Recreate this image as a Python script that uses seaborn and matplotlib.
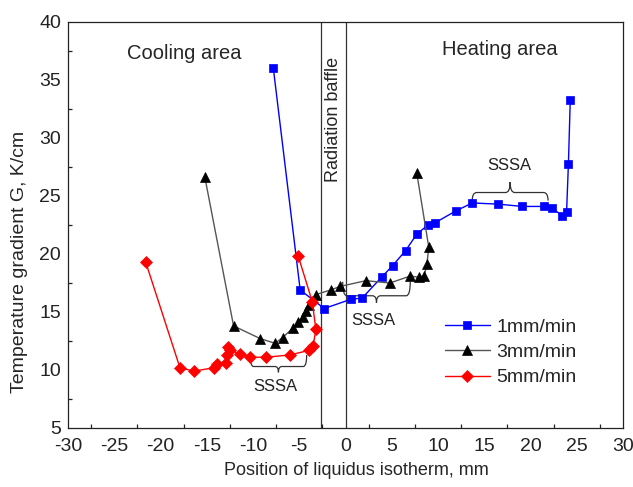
import numpy as np
import pandas as pd
import matplotlib
matplotlib.use("Agg")
import matplotlib.pyplot as plt
import seaborn as sns
from matplotlib.path import Path
from matplotlib.patches import PathPatch

# ---------------- data ----------------
x_1mm = [-7.8, -4.9, -2.3, 0.6, 1.8, 3.9, 5.1, 6.5, 7.7, 8.9, 9.7, 11.9, 13.7,
         16.5, 19.1, 21.5, 22.3, 23.4, 23.9, 24.1, 24.3]
g_1mm = [36.0, 16.9, 15.3, 16.1, 16.2, 18.0, 19.0, 20.3, 21.7, 22.5, 22.7, 23.7, 24.4,
         24.3, 24.1, 24.1, 24.0, 23.3, 23.6, 27.8, 33.3]

x_3mm = [-15.2, -12.1, -9.2, -7.6, -6.8, -5.7, -5.1, -4.6, -4.3, -3.9, -3.2, -1.6,
         -0.6, 2.2, 4.8, 7.0, 7.9, 8.5, 8.8, 9.0, 7.7]
g_3mm = [26.6, 13.8, 12.7, 12.3, 12.8, 13.6, 14.1, 14.6, 15.1, 15.6, 16.5, 16.9,
         17.2, 17.7, 17.5, 18.1, 18.0, 18.1, 19.1, 20.6, 27.0]

x_5mm = [-21.6, -17.9, -16.4, -14.2, -13.9, -12.9, -12.8, -12.7, -12.5, -11.4, -10.3,
         -8.6, -6.0, -3.9, -3.5, -3.2, -3.6, -5.1]
g_5mm = [19.3, 10.2, 9.9, 10.2, 10.5, 10.6, 11.3, 12.0, 11.7, 11.4, 11.1,
         11.1, 11.3, 11.7, 12.1, 13.5, 15.9, 19.8]

series_names = ["1mm/min", "3mm/min", "5mm/min"]
baffle_x = -2.6
x_ticks = [-30, -25, -20, -15, -10, -5, 0, 5, 10, 15, 20, 25, 30]
y_ticks = [5, 10, 15, 20, 25, 30, 35, 40]

frames = []
for name, xs, gs in zip(series_names, [x_1mm, x_3mm, x_5mm], [g_1mm, g_3mm, g_5mm]):
    frames.append(pd.DataFrame({"x": xs, "g": gs, "rate": name,
                                "order": np.arange(len(xs))}))
df = pd.concat(frames, ignore_index=True)

# ---------------- style ----------------
sns.set_theme(style="white")
plt.rcParams['font.family'] = ['Liberation Sans', 'DejaVu Sans']
plt.rcParams['axes.linewidth'] = 0.9
plt.rcParams['axes.unicode_minus'] = False

fig = plt.figure(figsize=(6.33, 4.87), dpi=100)
ax = fig.add_axes([68 / 633, 1 - 428 / 487, (623 - 68) / 633, (428 - 22) / 487])

line_colors = {"1mm/min": "#0000ff", "3mm/min": "#555555", "5mm/min": "#ff0000"}
mark_colors = {"1mm/min": "#0000ff", "3mm/min": "#000000", "5mm/min": "#ff0000"}
markers = {"1mm/min": "s", "3mm/min": "^", "5mm/min": "D"}
msizes = {"1mm/min": 6, "3mm/min": 7.5, "5mm/min": 6.5}

for name in series_names:
    sub = df[df.rate == name]
    sns.lineplot(data=sub, x="x", y="g", sort=False, estimator=None, ax=ax,
                 color=line_colors[name], lw=1.0, marker=markers[name],
                 markersize=msizes[name], markerfacecolor=mark_colors[name],
                 markeredgecolor=mark_colors[name], markeredgewidth=0.5,
                 label=name)

ax.axvline(0, color="#333333", lw=0.9, zorder=0)
ax.axvline(baffle_x, color="#333333", lw=0.9, zorder=0)

ax.set_xlim(-30, 30)
ax.set_ylim(5, 40)
ax.set_xticks(x_ticks)
ax.set_yticks(y_ticks)
ax.set_xticks(np.arange(-27.5, 30, 5), minor=True)
ax.set_yticks(np.arange(7.5, 40, 5), minor=True)
ax.tick_params(which="both", direction="in", top=False, right=False,
               labelsize=14, colors="#222222")
ax.tick_params(which="major", length=5, width=0.9, pad=5)
ax.tick_params(axis="x", which="major", pad=7)
ax.tick_params(which="minor", length=3, width=0.9, bottom=True, left=True)
for s in ax.spines.values():
    s.set_color("#222222")
    s.set_visible(True)

ax.set_xlabel("Position of liquidus isotherm, mm", fontsize=13)
ax.set_ylabel("Temperature gradient G, K/cm", fontsize=14)
ax.xaxis.set_label_coords(0.52, -0.083)
ax.yaxis.set_label_coords(-0.072, 0.41)

ax.text(-17.4, 37.3, "Cooling area", fontsize=14.5, ha="center", va="center")
ax.text(16.7, 37.6, "Heating area", fontsize=14.5, ha="center", va="center")
ax.text(-1.3, 31.6, "Radiation baffle", fontsize=13, ha="center", va="center",
        rotation=90)


def brace(ax, x0, x1, y_tip, y_mid, y_cusp):
    xm = (x0 + x1) / 2
    w = (x1 - x0) * 0.06
    verts = [(x0, y_tip), (x0, y_mid), (x0 + w, y_mid),
             (xm - w, y_mid),
             (xm, y_mid), (xm, y_cusp),
             (xm, y_mid), (xm + w, y_mid),
             (x1 - w, y_mid),
             (x1, y_mid), (x1, y_tip)]
    codes = [Path.MOVETO, Path.CURVE3, Path.CURVE3,
             Path.LINETO,
             Path.CURVE3, Path.CURVE3,
             Path.CURVE3, Path.CURVE3,
             Path.LINETO,
             Path.CURVE3, Path.CURVE3]
    ax.add_patch(PathPatch(Path(verts, codes), fc="none", ec="#333333", lw=0.9))


brace(ax, -10.3, -4.2, 11.3, 10.3, 9.8)
ax.text(-7.6, 8.6, "SSSA", fontsize=12, ha="center", va="center", color="#222222")
brace(ax, -0.3, 7.0, 17.6, 16.4, 15.8)
ax.text(3.0, 14.3, "SSSA", fontsize=12, ha="center", va="center", color="#222222")
brace(ax, 13.7, 21.9, 24.6, 25.3, 26.2)
ax.text(17.7, 27.6, "SSSA", fontsize=12, ha="center", va="center", color="#222222")

leg = ax.legend(loc="upper left", bbox_to_anchor=((445 - 68) / 555, (428 - 318) / 406),
                frameon=False, fontsize=14, handlelength=2.3, handletextpad=0.35,
                labelspacing=0.4, borderaxespad=0, borderpad=0)

fig.savefig("out.png", dpi=100)
